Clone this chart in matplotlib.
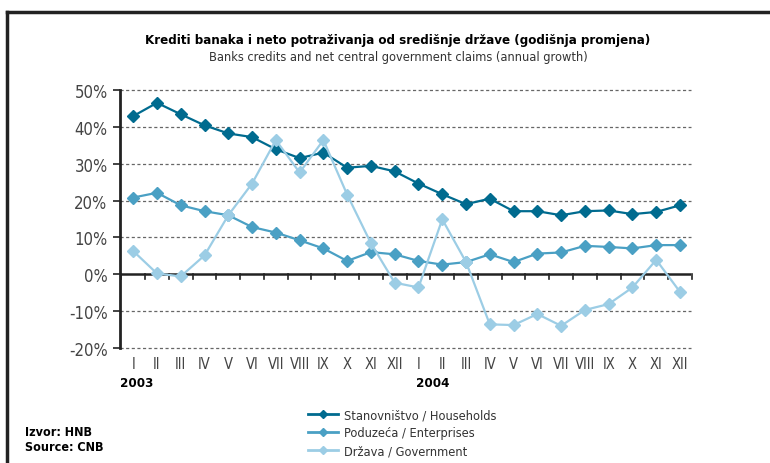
import matplotlib.pyplot as plt
from matplotlib.lines import Line2D

plt.rcParams['font.family'] = ['DejaVu Sans']
plt.rcParams['font.stretch'] = 'condensed'

months = ['I', 'II', 'III', 'IV', 'V', 'VI', 'VII', 'VIII', 'IX', 'X', 'XI', 'XII'] * 2
years = ['2003', '2004']

households = [42.9, 46.5, 43.4, 40.4, 38.2, 37.2, 33.9, 31.5, 33.0, 28.9, 29.4, 27.9,
              24.6, 21.7, 19.0, 20.5, 17.1, 17.1, 16.0, 17.1, 17.3, 16.3, 16.9, 18.7]
enterprises = [20.8, 22.1, 18.7, 17.1, 16.0, 12.8, 11.3, 9.2, 7.0, 3.6, 6.0, 5.4,
               3.6, 2.6, 3.3, 5.4, 3.3, 5.6, 5.9, 7.7, 7.4, 7.0, 7.9, 7.9]
government = [6.3, 0.2, -0.6, 5.1, 16.0, 24.6, 36.4, 27.6, 36.4, 21.6, 8.4, -2.3,
              -3.6, 14.9, 3.3, -13.6, -13.8, -10.8, -14.0, -9.7, -8.1, -3.6, 3.9, -4.8]

labels = ['Stanovništvo / Households', 'Poduzeća / Enterprises', 'Država / Government']
colors = ['#006b8f', '#4aa0c4', '#9ccde5']

fig = plt.figure(figsize=(7.7, 4.64), dpi=100)
ax = fig.add_axes([0.156, 0.248, 0.741, 0.556])

x = range(len(months))
for vals, c, lab in zip([households, enterprises, government], colors, labels):
    ax.plot(x, vals, color=c, lw=1.6, marker='D', ms=6.5, label=lab, zorder=3)

ax.set_xlim(-0.55, 23.45)
ax.set_ylim(-20, 50)
ax.set_yticks(range(-20, 51, 10))
ax.set_yticklabels([f'{v}%' for v in range(-20, 51, 10)], fontsize=12, color='#444444')
for v in range(-20, 51, 10):
    if v != 0:
        ax.axhline(v, color='#666666', lw=0.9, ls=(0, (2.5, 2)), zorder=1, clip_on=False)
ax.axhline(0, color='#222222', lw=1.8, zorder=2)

# month ticks hang from the zero line
for i in range(len(months) + 1):
    ax.plot([i - 0.5, i - 0.5], [0, -1.3], color='#222222', lw=1.2, zorder=2, clip_on=False)

ax.set_xticks(list(x))
ax.set_xticklabels(months, fontsize=10.5, color='#444444')
ax.tick_params(axis='x', length=0, pad=6)
ax.tick_params(axis='y', length=5, width=1.2, color='#222222', pad=4)

for s in ['top', 'right', 'bottom']:
    ax.spines[s].set_visible(False)
ax.spines['left'].set_linewidth(2)
ax.spines['left'].set_color('#222222')

ax.text(-0.55, -29.5, years[0], fontsize=9.5, fontweight='bold', ha='left', va='center')
ax.text(11.9, -29.5, years[1], fontsize=9.5, fontweight='bold', ha='left', va='center')

fig.text(0.517, 0.913, 'Krediti banaka i neto potraživanja od središnje države (godišnja promjena)',
         ha='center', va='center', fontsize=9.5, fontweight='bold')
fig.text(0.517, 0.876, 'Banks credits and net central government claims (annual growth)',
         ha='center', va='center', fontsize=9.2, color='#333333')

handles = [Line2D([], [], color=c, lw=2, marker='D', ms=4) for c in colors]
fig.legend(handles, labels, loc='upper left', bbox_to_anchor=(0.392, 0.132), frameon=False,
           fontsize=9.2, labelcolor='#333333', handlelength=2.3, handletextpad=0.5,
           labelspacing=0.4, borderpad=0)

fig.text(0.033, 0.068, 'Izvor: HNB', fontsize=9, fontweight='bold', va='center')
fig.text(0.033, 0.035, 'Source: CNB', fontsize=9, fontweight='bold', va='center')

# frame
fig.add_artist(Line2D([0.009, 0.009], [0, 0.972], color='#222222', lw=2.5))
fig.add_artist(Line2D([0.009, 1.0], [0.972, 0.972], color='#222222', lw=2.5))

fig.savefig('out.png', dpi=100)
